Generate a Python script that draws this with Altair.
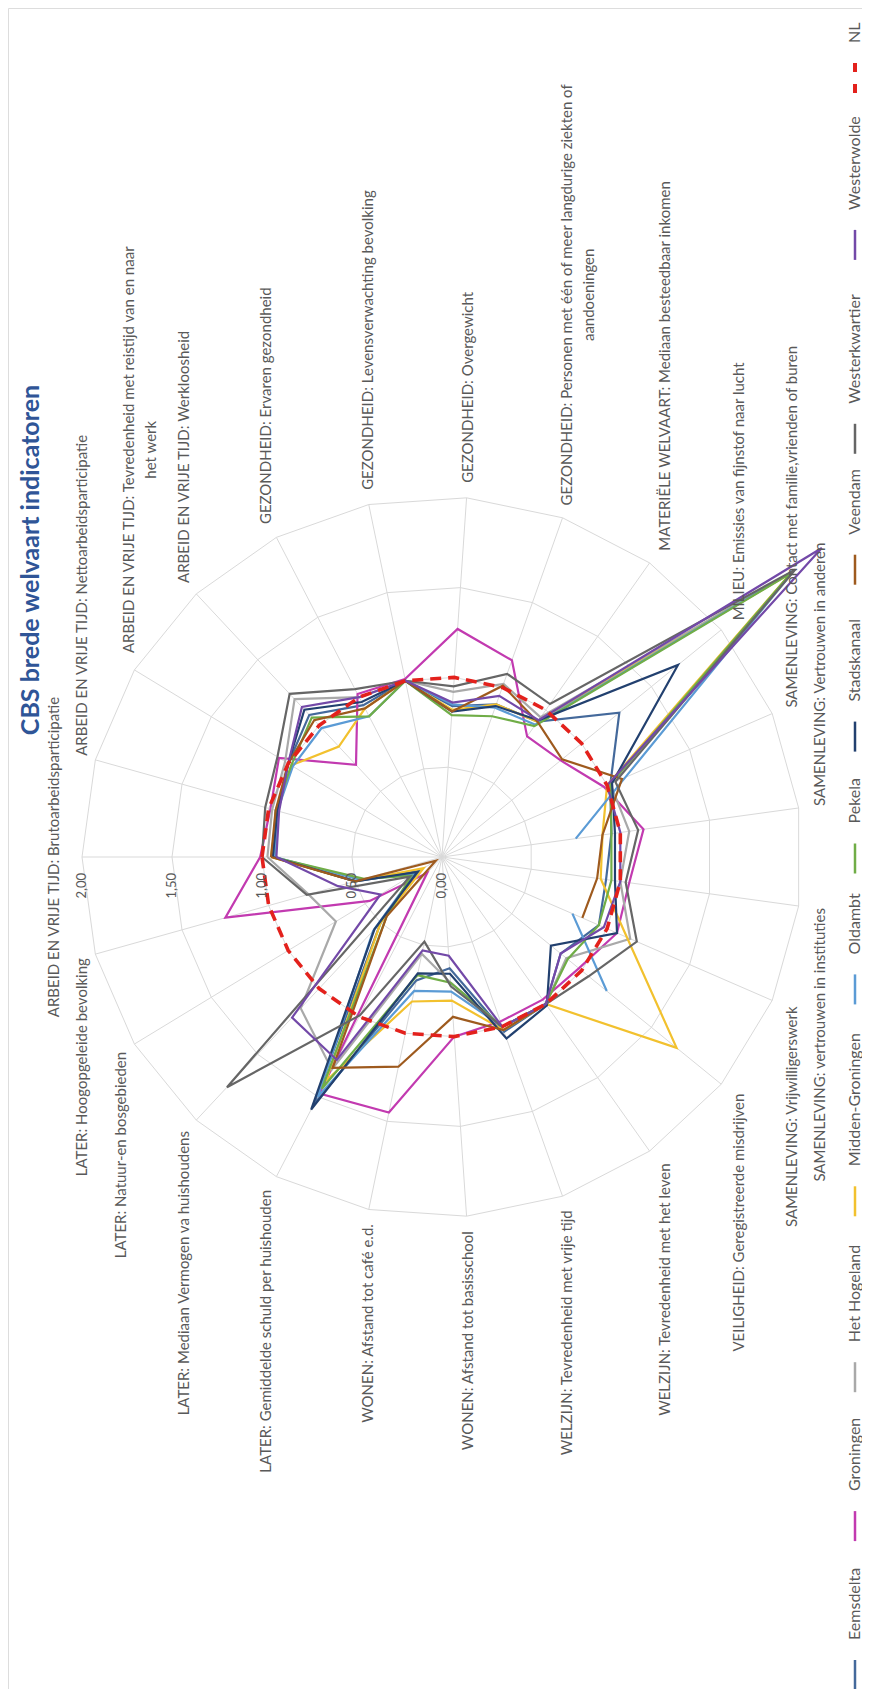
import altair as alt
import pandas as pd

# ---------------- data ----------------
categories = [
    "ARBEID EN VRIJE TIJD: Brutoarbeidsparticipatie",
    "ARBEID EN VRIJE TIJD: Nettoarbeidsparticipatie",
    "ARBEID EN VRIJE TIJD: Tevredenheid met reistijd van en naar\nhet werk",
    "ARBEID EN VRIJE TIJD: Werkloosheid",
    "GEZONDHEID: Ervaren gezondheid",
    "GEZONDHEID: Levensverwachting bevolking",
    "GEZONDHEID: Overgewicht",
    "GEZONDHEID: Personen met één of meer langdurige ziekten of\naandoeningen",
    "MATERIËLE WELVAART: Mediaan besteedbaar inkomen",
    "MILIEU: Emissies van fijnstof naar lucht",
    "SAMENLEVING: Contact met familie,vrienden of buren",
    "SAMENLEVING: Vertrouwen in anderen",
    "SAMENLEVING: vertrouwen in instituties",
    "SAMENLEVING: Vrijwilligerswerk",
    "VEILIGHEID: Geregistreerde misdrijven",
    "WELZIJN: Tevredenheid met het leven",
    "WELZIJN: Tevredenheid met vrije tijd",
    "WONEN: Afstand tot basisschool",
    "WONEN: Afstand tot café e.d.",
    "LATER: Gemiddelde schuld per huishouden",
    "LATER: Mediaan Vermogen va huishoudens",
    "LATER: Natuur-en bosgebieden",
    "LATER: Hoogopgeleide bevolking",
]

series_names = ["Eemsdelta", "Groningen", "Het Hogeland", "Midden-Groningen", "Oldambt",
                "Pekela", "Stadskanaal", "Veendam", "Westerkwartier", "Westerwolde", "NL"]
series_colors = ["#44699b", "#c23ab0", "#a9a9a9", "#f2c12e", "#5b9bd5",
                 "#70ad47", "#22406f", "#9e5a1e", "#666666", "#7349a8", "#e3211c"]

eemsdelta      = [0.93, 0.95, 1.00, 1.08, 0.95, 1.00, 0.84, 0.90, 0.92, 1.27, 1.02, 0.95, 0.92, 0.95, 0.85, 1.00, 1.03, 0.62, 0.70, 1.55, 0.50, 0.15, 0.50]
groningen      = [1.01, 0.99, 1.06, 0.70, 1.02, 1.01, 1.27, 1.16, 0.82, 0.85, 0.98, 1.13, 1.05, 1.06, 0.98, 0.97, 0.97, 1.00, 1.45, 1.48, 0.12, 0.47, 1.25]
het_hogeland   = [0.97, 0.98, 1.02, 1.20, 1.00, 1.00, 0.92, 1.02, 0.95, 2.52, 1.02, 1.05, 1.00, 1.14, 0.89, 1.00, 1.00, 0.70, 0.55, 1.33, 1.15, 0.69, 0.77]
midden_gron    = [0.95, 0.95, 0.98, 0.84, 0.93, 1.00, 0.82, 0.90, 0.92, 2.50, 1.00, 0.90, 0.89, 1.12, 1.68, 1.00, 1.02, 0.80, 0.82, 1.40, 0.50, 0.12, 0.50]
oldambt        = [0.93, 0.95, 0.97, 0.98, 0.88, 1.00, 0.85, 0.88, 0.90, 2.52, 1.11, 0.75, None, 0.79, 1.18, None, 1.00, 0.75, 0.76, 1.50, 0.56, 0.18, 0.47]
pekela         = [0.94, 0.96, 0.98, 1.06, 0.88, 1.00, 0.79, 0.83, 0.89, 2.50, 1.02, 0.95, 0.95, 0.95, 0.90, 1.00, 1.00, 0.70, 0.67, 1.45, 0.45, 0.20, 0.45]
stadskanaal    = [0.94, 0.95, 1.00, 1.12, 0.97, 1.00, 0.81, 0.89, 0.93, 1.69, 1.03, 0.97, 0.97, 1.06, 0.78, 1.01, 1.07, 0.65, 0.66, 1.58, 0.55, 0.16, 0.50]
veendam        = [0.95, 0.96, 1.00, 1.04, 0.93, 1.00, 0.81, 1.01, 0.92, 0.86, 1.09, 0.90, 0.87, 0.85, None, 1.00, 1.02, 0.89, 1.19, 1.32, 0.45, 0.04, 0.50]
westerkwartier = [1.00, 1.02, 1.07, 1.24, 1.05, 1.00, 0.95, 1.08, 1.04, 2.53, 1.05, 1.10, 1.03, 1.18, 1.05, 1.00, 1.00, 0.72, 0.48, 0.99, 1.75, 0.21, 0.78]
westerwolde    = [0.92, 0.94, 1.00, 1.14, 1.00, 1.00, 0.86, 0.95, 0.93, 2.72, 1.00, 1.00, 1.00, 0.98, 0.85, 1.00, 1.00, 0.55, 0.53, 1.27, 1.22, 0.40, 0.60]
nl             = [1.00, 1.00, 1.00, 1.00, 1.00, 1.00, 1.00, 1.00, 1.00, 1.00, 1.00, 1.00, 1.00, 1.00, 1.00, 1.00, 1.00, 1.00, 1.00, 1.00, 1.00, 1.00, 1.00]

ring_levels = [0.5, 1.0, 1.5, 2.0]
tick_values = [0.0, 0.5, 1.0, 1.5, 2.0]
tick_labels = ["0,00", "0,50", "1,00", "1,50", "2,00"]
title_text = "CBS brede welvaart indicatoren"

# ---------------- layout ----------------
W, H = 854, 1681          # plot area (page minus 8px margin)
PX_CX, PX_CY = 442, 857   # radar centre on the page
PPU = 180.0               # pixels per unit of value
N = len(categories)
FONT = "Lato"
TXT = "#595959"
LAB_SIZE = 15
LAB_CHARW = 7.2
RMAX = max(ring_levels)

def dx(px):  # page x -> data units
    return (px - PX_CX) / PPU

def dy(py):  # page y -> data units
    return (PX_CY - py) / PPU

xs = alt.Scale(domain=[dx(8), dx(8 + W)], nice=False, zero=False)
ys = alt.Scale(domain=[dy(8 + H), dy(8)], nice=False, zero=False)
X = lambda f: alt.X(f, scale=xs, axis=None)
Y = lambda f: alt.Y(f, scale=ys, axis=None)

ANG = "datum.idx * 2 * PI / %d" % N

# ---------------- tables ----------------
all_series = [eemsdelta, groningen, het_hogeland, midden_gron, oldambt, pekela,
              stadskanaal, veendam, westerkwartier, westerwolde, nl]
rows = []
for name, vals in zip(series_names, all_series):
    for i, v in enumerate(vals + [vals[0]]):
        rows.append({"series": name, "idx": i, "v": v})
df = pd.DataFrame(rows)
df_main = df[df.series != "NL"]
df_nl = df[df.series == "NL"]

grid_rows = [{"ring": r, "idx": i, "v": r} for r in ring_levels for i in range(N + 1)]
df_grid = pd.DataFrame(grid_rows)
df_spokes = pd.DataFrame({"idx": list(range(N)), "v": [RMAX] * N})
df_labels = pd.DataFrame({"idx": list(range(N)), "label": categories})
df_ticks = pd.DataFrame({"v": tick_values, "t": tick_labels})


def polar(chart):
    return chart.transform_calculate(ang=ANG).transform_calculate(
        x="datum.v == null ? null : -datum.v * cos(datum.ang)",
        y="datum.v == null ? null : datum.v * sin(datum.ang)",
    )

grid = polar(alt.Chart(df_grid)).mark_line(color="#d9d9d9", strokeWidth=1).encode(
    x=X("x:Q"), y=Y("y:Q"), detail="ring:N", order="idx:Q")

spokes = polar(alt.Chart(df_spokes)).transform_calculate(x0="0", y0="0").mark_rule(
    color="#d9d9d9", strokeWidth=1).encode(
    x=X("x0:Q"), y=Y("y0:Q"), x2="x:Q", y2="y:Q")

lines = polar(alt.Chart(df_main)).mark_line(
    strokeWidth=2.2, invalid="break-paths-show-domains").encode(
    x=X("x:Q"), y=Y("y:Q"),
    color=alt.Color("series:N", scale=alt.Scale(domain=series_names, range=series_colors), legend=None),
    order="idx:Q")

nl_line = polar(alt.Chart(df_nl)).mark_line(
    color=series_colors[-1], strokeWidth=3.6, strokeDash=[11, 7]).encode(
    x=X("x:Q"), y=Y("y:Q"), order="idx:Q")

# category labels: anchored just outside the outer ring, rotated like the chart
lab_base = alt.Chart(df_labels).transform_calculate(ang=ANG).transform_calculate(
    ux="-cos(datum.ang)", uy="sin(datum.ang)").transform_calculate(
    multi="indexof(datum.label, '\\n') > 0",
    l1="indexof(datum.label, '\\n')",
    gx="abs(datum.uy) < 0.1 ? 20 : (datum.ux < 0 ? 6 : 14)",
).transform_calculate(
    al="datum.multi ? 'center' : (datum.uy > 0.1 ? 'left' : (datum.uy < -0.1 ? 'right' : 'center'))",
    bl="datum.multi ? 'middle' : (datum.ux < -0.45 ? 'bottom' : (datum.ux > 0.45 ? 'top' : 'middle'))",
    x="datum.ux * (%f + datum.gx / %f)" % (RMAX, PPU),
    y="datum.uy * (%f + 15 / %f) + (datum.multi ? datum.l1 * %f / 2 / %f : 0)" % (RMAX, PPU, LAB_CHARW, PPU),
)
label_layers = []
for al in ["left", "right", "center"]:
    for bl in ["top", "middle", "bottom"]:
        label_layers.append(
            lab_base.transform_filter(
                "datum.al == '%s' && datum.bl == '%s'" % (al, bl)
            ).mark_text(angle=270, align=al, baseline=bl, font=FONT, fontSize=LAB_SIZE,
                        color=TXT, lineBreak="\n", lineHeight=22).encode(
                x=X("x:Q"), y=Y("y:Q"), text="label:N")
        )

ticks = alt.Chart(df_ticks).transform_calculate(
    x="-datum.v", y="-16 / %f" % PPU).mark_text(
    angle=270, align="right", baseline="middle", font=FONT, fontSize=13, color=TXT).encode(
    x=X("x:Q"), y=Y("y:Q"), text="t:N")

# title
df_title = pd.DataFrame({"t": [title_text]})
title = alt.Chart(df_title).transform_calculate(
    x="%f" % dx(31), y="%f" % dy(560)).mark_text(
    angle=270, align="center", baseline="middle", font=FONT, fontSize=25,
    fontWeight="bold", color="#2f5597").encode(
    x=X("x:Q"), y=Y("y:Q"), text="t:N")

# legend (drawn manually, rotated like the chart)
CHARW, SYM, GAP1 = 9.0, 30, 20
leg_rows = []
total_text = sum(len(n) * CHARW for n in series_names)
start, end = 1690, 25
gap = (start - end - total_text - len(series_names) * (SYM + GAP1)) / (len(series_names) - 1)
s = start
for name in series_names:
    tl = len(name) * CHARW
    leg_rows.append({"series": name, "ys0": dy(s), "ys1": dy(s - SYM), "yt": dy(s - SYM - GAP1),
                     "xl": dx(855)})
    s = s - SYM - GAP1 - tl - gap
df_leg = pd.DataFrame(leg_rows)

leg_sym = alt.Chart(df_leg[df_leg.series != "NL"]).mark_rule(strokeWidth=2.5).encode(
    x=X("xl:Q"), y=Y("ys0:Q"), y2="ys1:Q",
    color=alt.Color("series:N", scale=alt.Scale(domain=series_names, range=series_colors), legend=None))
leg_nl = alt.Chart(df_leg[df_leg.series == "NL"]).mark_rule(
    strokeWidth=4, strokeDash=[9, 12], color=series_colors[-1]).encode(
    x=X("xl:Q"), y=Y("ys0:Q"), y2="ys1:Q")
leg_txt = alt.Chart(df_leg).mark_text(
    angle=270, align="left", baseline="middle", font=FONT, fontSize=16, color=TXT).encode(
    x=X("xl:Q"), y=Y("yt:Q"), text="series:N")

chart = alt.layer(
    grid, spokes, lines, nl_line, *label_layers, ticks, title, leg_sym, leg_nl, leg_txt
).properties(
    width=W, height=H, padding=0, autosize=alt.AutoSizeParams(type="none")
).configure_view(stroke=None).configure(background="white")

chart.save("out.html", embed_options={"renderer": "svg", "actions": False})
